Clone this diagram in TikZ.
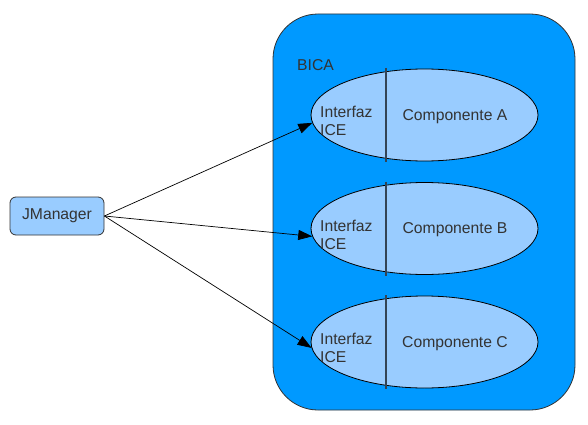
\documentclass[tikz,border=0pt]{standalone}
\usepackage{fontspec}
\setmainfont{Liberation Sans}
\usetikzlibrary{shapes.geometric,arrows.meta}
\definecolor{bicablue}{RGB}{0,153,255}
\definecolor{lightblue}{RGB}{153,204,255}
\definecolor{txt}{RGB}{51,51,51}
\definecolor{divider}{RGB}{51,68,85}
\begin{document}
\begin{tikzpicture}[x=1pt,y=1pt,
  every node/.style={font=\fontsize{15.7}{18}\selectfont, text=txt},
  comp/.style={ellipse, draw=black, line width=0.8pt, fill=lightblue, minimum width=227pt, minimum height=92pt, inner sep=0pt},
  jbox/.style={rectangle, rounded corners=6pt, draw=black!80, line width=0.8pt, fill=lightblue, minimum width=94pt, minimum height=38pt, inner sep=0pt},
  lbl/.style={inner sep=0pt},
  conn/.style={draw=black, line width=0.7pt, -{Triangle[length=14pt,width=10pt]}},
  div/.style={draw=divider, line width=1.2pt}
]
\useasboundingbox (0,0) rectangle (588,424);
\node[draw=black!80, line width=0.8pt, fill=bicablue, rounded corners=45pt, minimum width=302pt, minimum height=396pt, inner sep=0pt] (bica) at (424,212) {};
\node[lbl, anchor=west] (bicalbl) at (297,359) {BICA};

\foreach \n/\y/\t in {ea/309/A, eb/195.5/B, ec/82/C}{
  \node[comp] (\n) at (424.5,\y) {};
  \draw[div] ([xshift=-38.5pt,yshift=47pt]\n.center) -- ([xshift=-38.5pt,yshift=-47pt]\n.center);
  \node[lbl, anchor=west, align=left] (\n i) at ([xshift=-104.5pt,yshift=-6pt]\n.center) {Interfaz\\ICE};
  \node[lbl] (\n c) at ([xshift=30.5pt,yshift=-1.5pt]\n.center) {Componente \t};
}

\node[jbox] (jm) at (57,208) {JManager};

\draw[conn] (jm.east) -- (ea.184);
\draw[conn] (jm.east) -- (eb.184);
\draw[conn] (jm.east) -- (ec.183);
\end{tikzpicture}
\end{document}
